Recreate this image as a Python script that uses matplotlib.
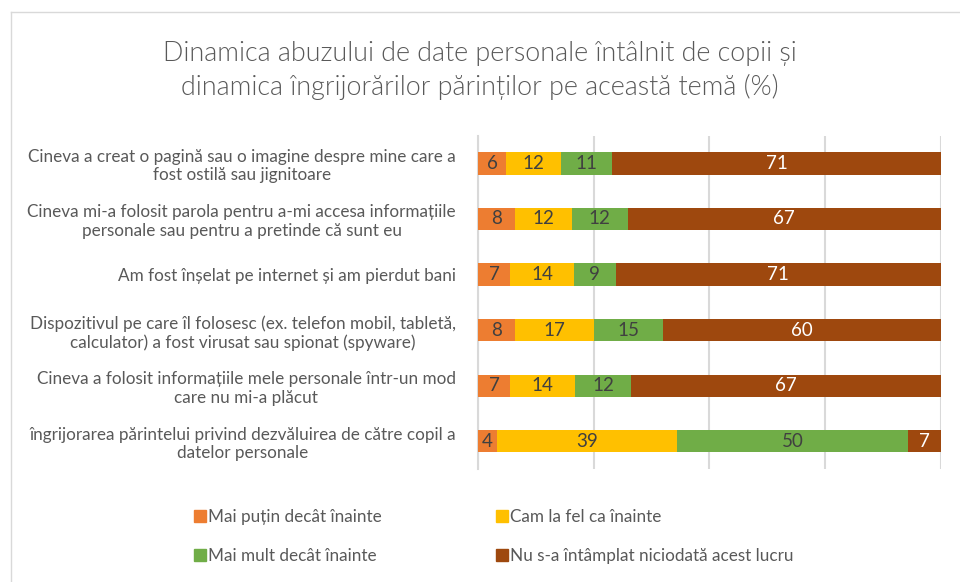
import numpy as np
import matplotlib.pyplot as plt
from matplotlib.lines import Line2D

plt.rcParams['font.family'] = ['Lato', 'DejaVu Sans']

# categories, top to bottom
categories = [
    'Cineva a creat o pagină sau o imagine despre mine care a\nfost ostilă sau jignitoare',
    'Cineva mi-a folosit parola pentru a-mi accesa informațiile\npersonale sau pentru a pretinde că sunt eu',
    'Am fost înșelat pe internet și am pierdut bani',
    'Dispozitivul pe care îl folosesc (ex. telefon mobil, tabletă,\ncalculator) a fost virusat sau spionat (spyware)',
    'Cineva a folosit informațiile mele personale într-un mod\ncare nu mi-a plăcut',
    'îngrijorarea părintelui privind dezvăluirea de către copil a\ndatelor personale',
]
series_names = ['Mai puțin decât înainte', 'Cam la fel ca înainte',
                'Mai mult decât înainte', 'Nu s-a întâmplat niciodată acest lucru']
mai_putin = [6, 8, 7, 8, 7, 4]
la_fel = [12, 12, 14, 17, 14, 39]
mai_mult = [11, 12, 9, 15, 12, 50]
niciodata = [71, 67, 71, 60, 67, 7]

colors = ['#ED7D31', '#FFC000', '#70AD47', '#9E480E']
label_colors = ['#404040', '#404040', '#404040', 'white']

data = np.array([mai_putin, la_fel, mai_mult, niciodata], dtype=float)
totals = data.sum(axis=0)
pct = data / totals * 100

fig = plt.figure(figsize=(9.6, 5.82), dpi=100)
ax = fig.add_axes([0.498, 0.194, 0.482, 0.573])

y = np.arange(len(categories))
left = np.zeros(len(categories))
for i, name in enumerate(series_names):
    bars = ax.barh(y, pct[i], left=left, height=0.4, color=colors[i],
                   label=name, zorder=3)
    for j, b in enumerate(bars):
        ax.text(left[j] + pct[i][j] / 2, y[j], f'{int(data[i][j])}',
                ha='center', va='center', fontsize=13.5,
                color=label_colors[i], zorder=4)
    left += pct[i]

ax.set_xlim(0, 100)
ax.set_ylim(len(categories) - 0.5, -0.5)
ax.set_xticks([0, 25, 50, 75, 100])
ax.set_xticklabels([])
ax.tick_params(axis='x', length=0)
ax.grid(axis='x', color='#D9D9D9', linewidth=1.5, zorder=0)
ax.set_yticks(y)
ax.set_yticklabels(categories, fontsize=12.3, color='#595959',
                   multialignment='center', linespacing=1.2)
ax.tick_params(axis='y', length=0, pad=16)
for s in ['top', 'right', 'bottom']:
    ax.spines[s].set_visible(False)
ax.spines['left'].set_color('#D9D9D9')
ax.spines['left'].set_linewidth(1.5)

fig.suptitle('Dinamica abuzului de date personale întâlnit de copii și\n'
             'dinamica îngrijorărilor părinților pe această temă (%)',
             y=0.93, fontsize=19.4, color='#595959', linespacing=1.4,
             fontweight=300)

handles = [Line2D([], [], marker='s', linestyle='', markersize=8,
                  color=c) for c in colors]
order = [0, 2, 1, 3]
fig.legend([handles[k] for k in order], [series_names[k] for k in order],
           ncol=2, loc='center left', bbox_to_anchor=(0.185, 0.078),
           frameon=False, fontsize=12.3, labelcolor='#595959',
           handletextpad=0.1, handlelength=0.8, columnspacing=6.6,
           labelspacing=1.35)

# frame edges of the cropped chart
fig.add_artist(Line2D([0.011, 1], [1 - 12 / 582] * 2, color='#D9D9D9', linewidth=1))
fig.add_artist(Line2D([0.011, 0.011], [0, 1 - 12 / 582], color='#D9D9D9', linewidth=1))

fig.savefig('out.png', dpi=100)
